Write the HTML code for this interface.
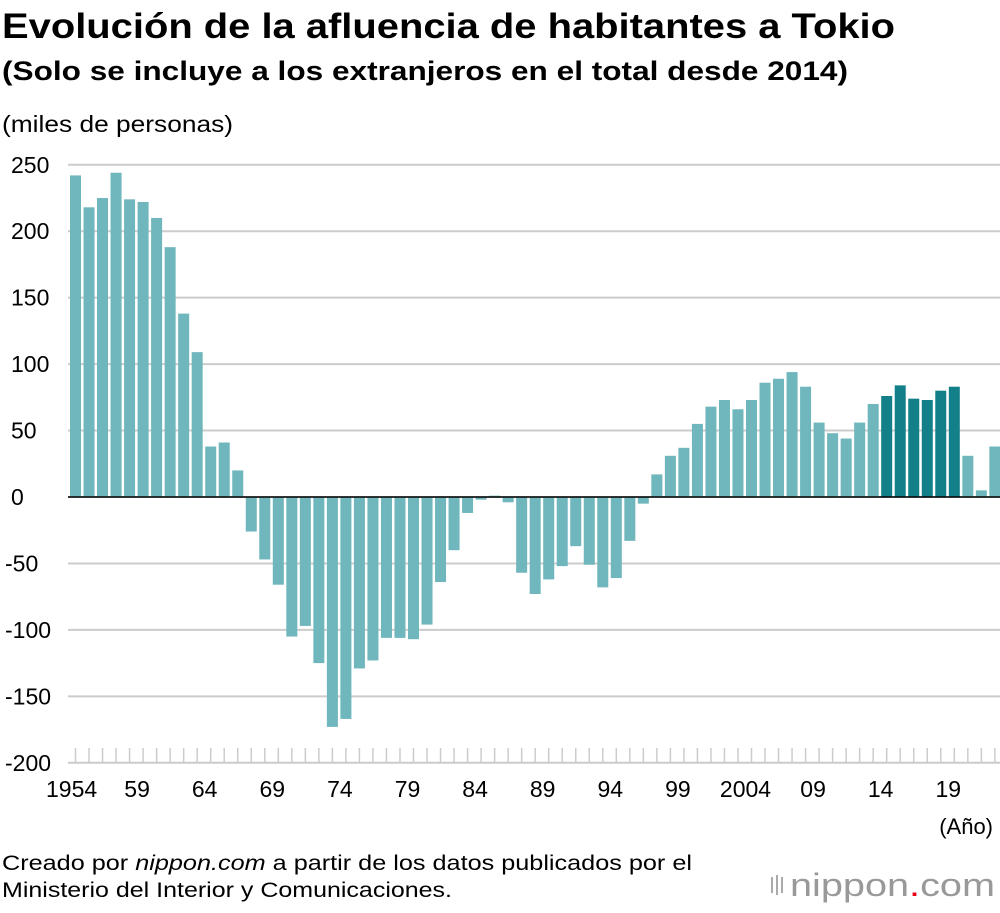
<!DOCTYPE html>
<html><head><meta charset="utf-8"><style>
body{margin:0;background:#fff;font-family:"Liberation Sans",Arial,sans-serif;}
svg text{font-family:"Liberation Sans",Arial,sans-serif;}
</style></head><body>
<svg id="c" width="1000" height="908" xmlns="http://www.w3.org/2000/svg">
<text x="2" y="38" font-size="35" font-weight="bold" fill="#000" textLength="893" lengthAdjust="spacingAndGlyphs">Evolución de la afluencia de habitantes a Tokio</text>
<text x="2" y="80" font-size="27" font-weight="bold" fill="#000" textLength="846" lengthAdjust="spacingAndGlyphs">(Solo se incluye a los extranjeros en el total desde 2014)</text>
<text x="2" y="132" font-size="23" fill="#000" textLength="231" lengthAdjust="spacingAndGlyphs">(miles de personas)</text>
<text x="993" y="834" font-size="22" text-anchor="end" fill="#000">(Año)</text>
<text x="2" y="870" font-size="21" fill="#000" textLength="690" lengthAdjust="spacingAndGlyphs">Creado por <tspan font-style="italic">nippon.com</tspan> a partir de los datos publicados por el</text>
<text x="2" y="897" font-size="21" fill="#000" textLength="450" lengthAdjust="spacingAndGlyphs">Ministerio del Interior y Comunicaciones.</text>
<g>
<rect x="771" y="877" width="2" height="16" fill="#aaa"/><rect x="776" y="875" width="2" height="20" fill="#aaa"/><rect x="781" y="877" width="2" height="16" fill="#aaa"/>
<text x="790" y="896" font-size="32" fill="#999" textLength="205" lengthAdjust="spacingAndGlyphs">nippon<tspan fill="#e60012">.</tspan>com</text>
</g>
<g id="grid"></g><g id="bars"></g><g id="axes"></g>
</svg>
<script>
const years=[];for(let y=1954;y<=2022;y++)years.push(y);
const values=[242,218,225,244,224,222,210,188,138,109,38,41,20,-26,-47,-66,-105,-97,-125,-173,-167,-129,-123,-106,-106,-107,-96,-64,-40,-12,-2,1,-4,-57,-73,-62,-52,-37,-51,-68,-61,-33,-5,17,31,37,55,68,73,66,73,86,89,94,83,56,48,44,56,70,76,84,74,73,80,83,31,5,38];
const darkYears=[2014,2015,2016,2017,2018,2019];
const yTicks=[250,200,150,100,50,0,-50,-100,-150,-200];
const yTickLabels=["250","200","150","100","50","0","-50","-100","-150","-200"];
const xLabelYears=[1954,1959,1964,1969,1974,1979,1984,1989,1994,1999,2004,2009,2014,2019];
const xLabels=["1954","59","64","69","74","79","84","89","94","99","2004","09","14","19"];
const NS="http://www.w3.org/2000/svg";
const yS=v=>497-v*(763-165)/450;
const xS=yr=>75.5+(yr-1954)*13.52;
function mk(t,a,p){const e=document.createElementNS(NS,t);for(const k in a)e.setAttribute(k,a[k]);p.appendChild(e);return e;}
const grid=document.getElementById('grid'),bars=document.getElementById('bars'),axes=document.getElementById('axes');
yTicks.forEach((v,i)=>{
 const l=mk('line',{x1:68,x2:1000,y1:yS(v),y2:yS(v),stroke:'#ccc','stroke-width':2},grid);
 
 
 const t=mk('text',{x:v<0?5:11,y:yS(v)+8,'font-size':23,fill:'#000'},axes);
 t.textContent=yTickLabels[i];
 
 
});
years.forEach((yr,i)=>{
 const v=values[i],x=xS(yr);
 const r=mk('rect',{x:x-5.5,width:11,y:Math.min(yS(v),yS(0)),height:Math.abs(yS(v)-yS(0)),fill:darkYears.includes(yr)?'#137f89':'#6fb6bd'},bars);
 
 
 const tk=mk('line',{x1:x,x2:x,y1:748,y2:763,stroke:'#ccc','stroke-width':1.5},axes);
 
 
});
const z=mk('line',{x1:68,x2:1000,y1:yS(0),y2:yS(0),stroke:'#000','stroke-width':1.5},axes);


xLabelYears.forEach((yr,i)=>{
 const t=mk('text',{x:xS(yr)-6,y:797,'font-size':23,'text-anchor':i==0?'start':'middle',fill:'#000'},axes);
 if(i==0)t.setAttribute('x',46);
 t.textContent=xLabels[i];
 
 
});
</script>
</body></html>
